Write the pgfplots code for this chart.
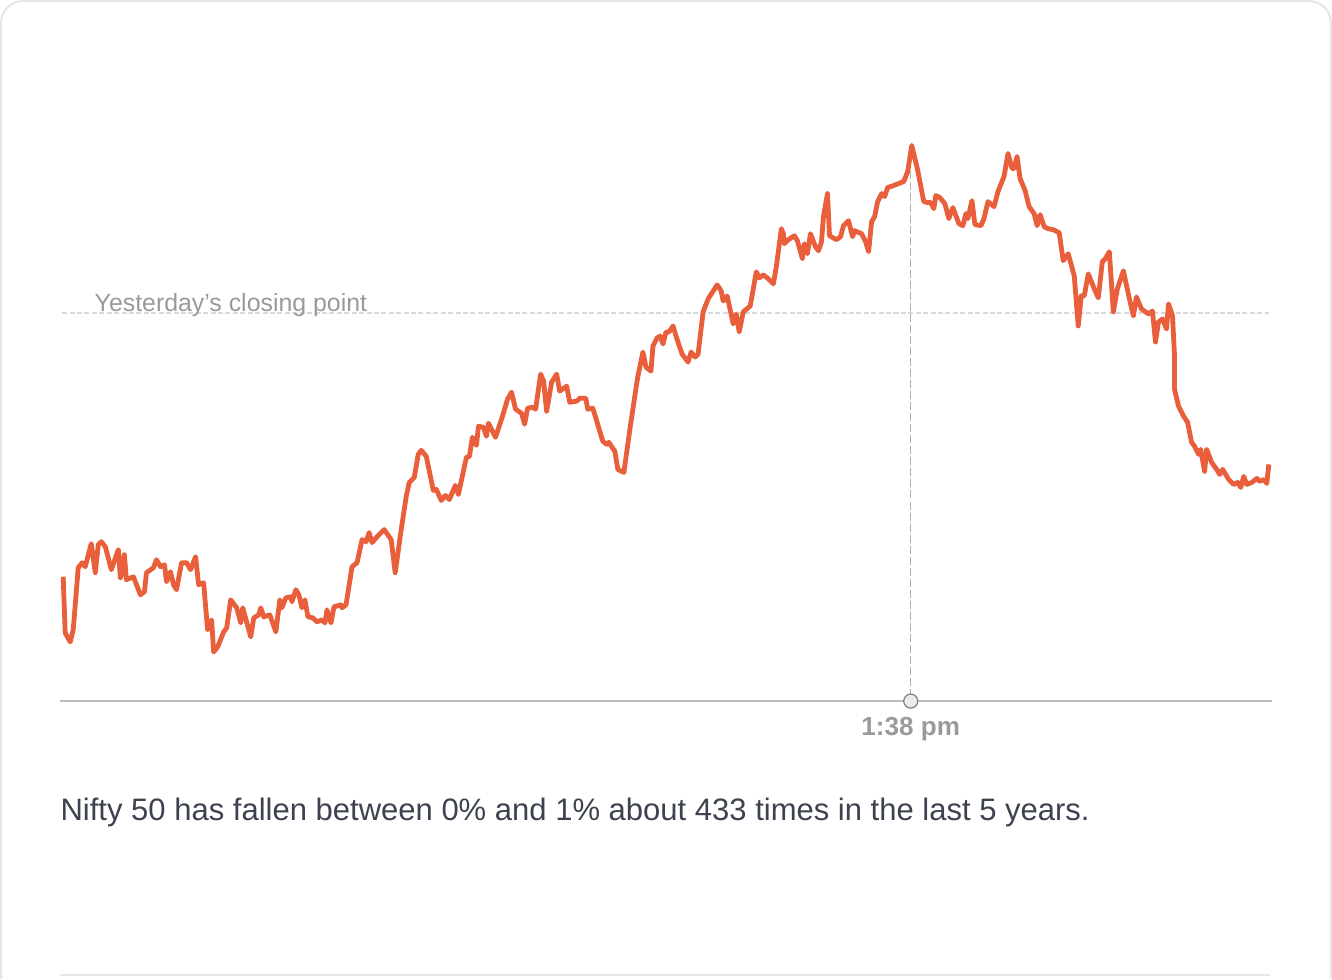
\documentclass[border=0pt]{standalone}
\usepackage{pgfplots}
\pgfplotsset{compat=1.18}
\usepackage{fontspec}
\setmainfont{Liberation Sans}
\definecolor{lineor}{HTML}{E95F3C}
\definecolor{bordergray}{HTML}{E6E6E6}
\definecolor{refgray}{HTML}{D8D8D8}
\definecolor{vgray}{HTML}{B0B0B0}
\definecolor{basegray}{HTML}{BDBDBD}
\definecolor{labgray}{HTML}{9A9A9A}
\definecolor{txtdark}{HTML}{3D4250}
\begin{document}
\begin{tikzpicture}
\begin{axis}[
  scale only axis, width=666pt, height=489pt,
  xmin=0, xmax=1332, ymin=0, ymax=978, y dir=reverse,
  hide axis, clip=false]
% border
\draw[bordergray, line width=1pt, rounded corners=11pt] (axis cs:3,978) -- (axis cs:3,3) -- (axis cs:1329,3) -- (axis cs:1329,978);
\draw[bordergray, line width=1pt] (axis cs:62,974) -- (axis cs:1268,974);
% reference line
\addplot[refgray, line width=0.8pt, dash pattern=on 2.5pt off 1.2pt] coordinates {(64,314) (1267,314)};
\node[anchor=base west, text=labgray, font=\fontsize{12.4pt}{14pt}\selectfont, inner sep=0pt] at (axis cs:96,313) {Yesterday’s closing point};
% vertical marker line
\addplot[vgray, line width=0.5pt, dash pattern=on 4pt off 1.5pt] coordinates {(910,150) (910,700)};
% baseline
\addplot[basegray, line width=0.75pt] coordinates {(62,701) (1270,701)};
% series
\addplot[lineor, line width=2.4pt, line join=round] table {
x y
65 577
67 633
72 642
75 630
80 568
84 563
87 567
93 544
97 573
100 545
103 542
107 547
113 570
120 550
122 578
126 555
128 580
135 577
142 595
146 592
148 573
155 568
158 560
162 567
166 565
168 582
172 572
175 585
178 590
183 563
188 563
192 570
197 557
200 585
205 583
209 630
213 620
215 652
219 647
225 632
228 628
232 600
238 608
242 623
244 608
252 637
255 618
260 615
262 608
265 617
271 615
277 632
281 600
283 608
287 598
292 597
293 602
297 590
300 595
303 608
306 600
309 617
314 618
318 622
323 620
326 623
328 610
332 623
335 607
342 605
343 608
347 605
353 567
358 563
363 540
367 542
370 533
373 543
378 537
385 530
392 540
396 573
402 530
407 497
410 483
415 478
419 455
422 451
427 457
434 491
437 490
442 501
446 496
450 500
456 486
459 495
467 458
470 457
473 438
477 446
479 427
484 428
487 437
489 424
496 438
503 417
508 400
512 393
516 410
522 414
525 425
528 409
533 408
536 410
541 375
544 382
547 412
552 383
557 375
560 392
567 387
570 403
577 402
580 399
586 399
588 410
593 409
597 422
603 442
607 445
609 443
615 452
618 470
624 473
630 430
637 383
638 377
643 353
646 368
651 372
653 347
657 339
660 337
663 345
666 333
669 333
673 327
676 337
682 355
688 363
691 353
695 358
698 355
703 313
708 300
717 286
721 292
723 302
727 297
733 325
736 315
739 333
743 313
750 307
756 273
759 279
763 276
768 280
773 285
776 268
781 230
783 235
784 245
788 241
794 237
797 242
802 260
804 245
807 255
810 235
815 248
818 252
821 243
823 218
827 195
829 237
836 241
840 238
843 227
848 222
852 238
854 232
861 235
865 243
868 253
871 223
874 218
877 203
881 195
884 198
887 189
893 187
898 185
903 183
907 173
911 147
917 172
923 203
927 204
930 204
933 210
935 197
939 199
944 205
948 220
952 209
958 225
962 227
965 215
967 220
971 202
974 226
980 227
983 220
987 203
993 208
997 193
1003 178
1007 155
1011 170
1013 170
1016 158
1019 180
1024 192
1028 208
1033 215
1036 227
1039 216
1043 228
1047 230
1052 231
1058 234
1062 262
1067 255
1073 277
1077 327
1080 297
1083 297
1087 275
1093 290
1097 299
1101 263
1104 260
1108 253
1112 313
1116 290
1122 272
1128 300
1132 317
1135 298
1140 310
1147 315
1151 312
1154 343
1157 323
1161 320
1165 330
1167 305
1171 317
1173 357
1173 390
1177 407
1182 417
1186 423
1190 443
1193 447
1197 455
1199 450
1203 472
1205 450
1210 463
1215 470
1218 475
1221 470
1227 480
1232 485
1236 483
1239 488
1242 477
1245 485
1250 483
1255 479
1258 482
1262 480
1265 484
1267 465
};
% current-time marker
\addplot[only marks, mark=*, mark size=3.5pt, mark options={fill=black!8, draw=black!50, line width=0.6pt}] coordinates {(910,701)};
\node[anchor=base, text=labgray, font=\fontsize{13pt}{15pt}\selectfont\bfseries, inner sep=0pt] at (axis cs:910,735) {1:38 pm};
% caption
\node[anchor=base west, text=txtdark, inner sep=0pt] at (axis cs:62,820) {\resizebox{513pt}{!}{\fontsize{14pt}{16pt}\selectfont Nifty 50 has fallen between 0\% and 1\% about 433 times in the last 5 years.}};
\end{axis}
\end{tikzpicture}
\end{document}
